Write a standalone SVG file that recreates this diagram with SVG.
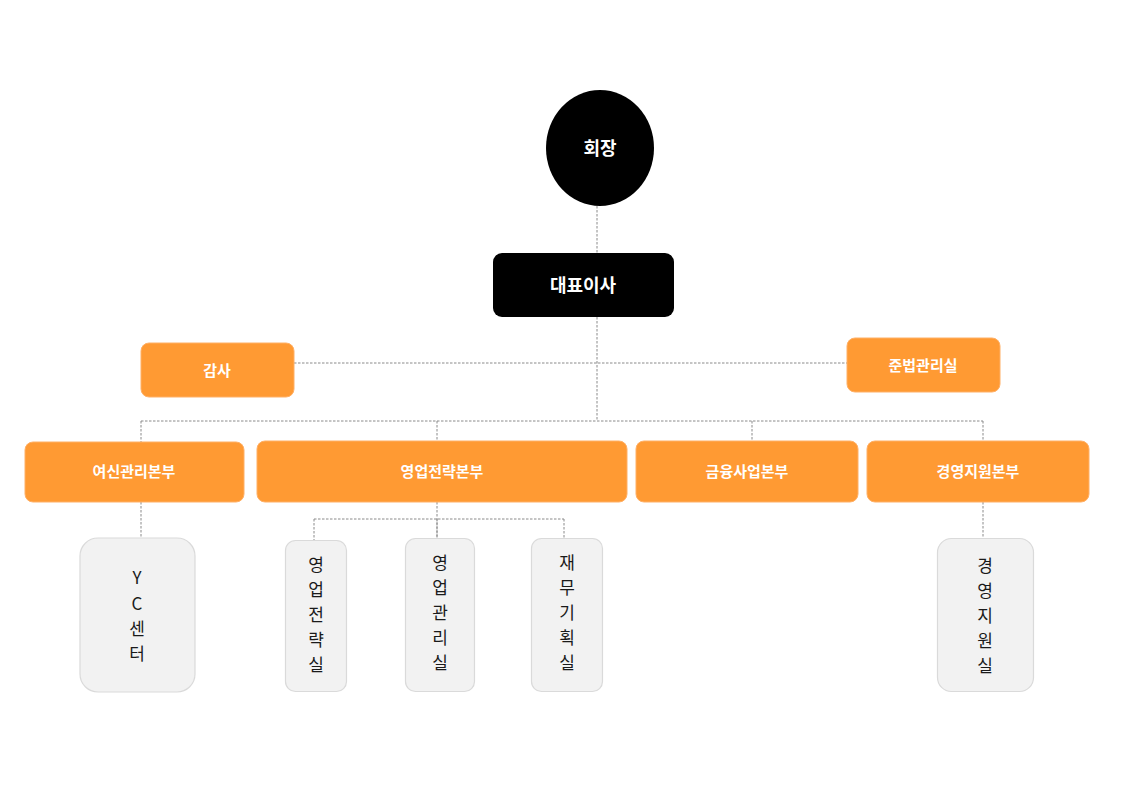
<svg xmlns="http://www.w3.org/2000/svg" width="1123" height="794" viewBox="0 0 1123 794">
<style>
.c{fill:none;stroke:#8a8a8a;stroke-width:1;stroke-dasharray:2.5 1.5}
.o{fill:#FF9A33;stroke:#FFB066;stroke-width:1}
.k{fill:#000}
.s{fill:#F2F2F2;stroke:#DADADA;stroke-width:1.2}
.wt{fill:#fff;font-family:"Noto Sans CJK KR","Noto Sans",sans-serif;font-weight:bold;text-anchor:middle;dominant-baseline:central}
.vt{fill:#1a1a1a;font-family:"Noto Sans CJK KR","Noto Sans",sans-serif;font-size:17px;text-anchor:middle}
</style>
<rect width="1123" height="794" fill="#fff"/>
<g id="connectors">
<path class="c" d="M597 206V253M597 317V421M294 363H847M141 421H983M141 421V442M437 421V441M752 421V441M983 421V441"/>
<path class="c" d="M141 502V538M437 502V540M314 519H564M314 519V540M437 519V540M564 519V538M983 502V538"/>
</g>
<g id="n-chairman"><ellipse class="k" cx="600" cy="148" rx="54" ry="58"/><text class="wt" x="600" y="147" font-size="18">회장</text></g>
<g id="n-ceo"><rect class="k" x="493" y="253" width="181" height="64" rx="9"/><text class="wt" x="583" y="284" font-size="18">대표이사</text></g>
<g id="n-audit"><rect class="o" x="141" y="343" width="153" height="54" rx="8"/><text class="wt" x="217" y="369" font-size="15">감사</text></g>
<g id="n-compliance"><rect class="o" x="847" y="338" width="153" height="54" rx="8"/><text class="wt" x="923" y="364" font-size="15">준법관리실</text></g>
<g id="n-credit"><rect class="o" x="25" y="442" width="219" height="60" rx="8"/><text class="wt" x="134" y="470" font-size="15">여신관리본부</text></g>
<g id="n-sales"><rect class="o" x="257" y="441" width="370" height="61" rx="8"/><text class="wt" x="442" y="470" font-size="15">영업전략본부</text></g>
<g id="n-finance"><rect class="o" x="636" y="441" width="222" height="61" rx="8"/><text class="wt" x="747" y="470" font-size="15">금융사업본부</text></g>
<g id="n-support"><rect class="o" x="867" y="441" width="222" height="61" rx="8"/><text class="wt" x="978" y="470" font-size="15">경영지원본부</text></g>
<g id="n-yc"><rect class="s" x="80" y="538" width="115" height="154" rx="18"/>
<text class="vt" x="137"><tspan x="137" y="584">Y</tspan><tspan x="137" y="610">C</tspan><tspan x="137" y="635">센</tspan><tspan x="137" y="660">터</tspan></text></g>
<g id="n-salesstrat"><rect class="s" x="285.5" y="540.5" width="61" height="151" rx="10"/>
<text class="vt" x="316"><tspan x="316" y="571">영</tspan><tspan x="316" y="596">업</tspan><tspan x="316" y="621">전</tspan><tspan x="316" y="646">략</tspan><tspan x="316" y="671">실</tspan></text></g>
<g id="n-salesmgmt"><rect class="s" x="405.5" y="538.5" width="69" height="153" rx="10"/>
<text class="vt" x="440"><tspan x="440" y="569">영</tspan><tspan x="440" y="594">업</tspan><tspan x="440" y="619">관</tspan><tspan x="440" y="644">리</tspan><tspan x="440" y="669">실</tspan></text></g>
<g id="n-finplan"><rect class="s" x="531.5" y="538.5" width="71" height="153" rx="10"/>
<text class="vt" x="567"><tspan x="567" y="569">재</tspan><tspan x="567" y="594">무</tspan><tspan x="567" y="619">기</tspan><tspan x="567" y="644">획</tspan><tspan x="567" y="669">실</tspan></text></g>
<g id="n-mgmtsupport"><rect class="s" x="937.5" y="538.5" width="96" height="153" rx="14"/>
<text class="vt" x="985"><tspan x="985" y="572">경</tspan><tspan x="985" y="597">영</tspan><tspan x="985" y="622">지</tspan><tspan x="985" y="647">원</tspan><tspan x="985" y="672">실</tspan></text></g>
</svg>
